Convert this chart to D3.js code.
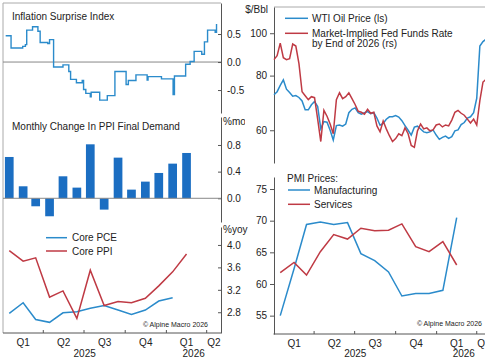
<!DOCTYPE html>
<html>
<head>
<meta charset="utf-8">
<script src="https://cdn.jsdelivr.net/npm/d3@7"></script>
<style>
body { margin: 0; background: #fff; }
text { font-family: "Liberation Sans", Arial, sans-serif; fill: #222; }
</style>
</head>
<body>
<script>
// Inflation surprise index (step series, value changes)
var surpriseDates = ["2025-01-07","2025-01-19","2025-02-14","2025-02-20","2025-02-23","2025-03-08","2025-03-20","2025-03-25","2025-04-11","2025-04-15","2025-04-24","2025-05-15","2025-05-28","2025-06-01","2025-06-14","2025-06-27","2025-06-30","2025-07-05","2025-07-15","2025-07-17","2025-08-05","2025-08-22","2025-09-08","2025-10-03","2025-10-08","2025-10-25","2025-11-19","2025-11-21","2025-12-21","2026-01-16","2026-01-19","2026-02-13","2026-02-23","2026-03-04","2026-03-21","2026-03-27","2026-04-03","2026-04-20","2026-04-23"];
var surpriseValues = [0.47,0.25,0.28,0.31,0.57,0.63,0.55,0.35,0.33,0.40,-0.09,-0.05,-0.17,-0.31,-0.37,-0.33,-0.49,-0.56,-0.62,-0.54,-0.68,-0.60,-0.17,-0.40,-0.33,-0.23,-0.32,-0.26,-0.30,-0.58,-0.25,-0.04,0.01,0.19,0.14,0.36,0.57,0.53,0.68];

// Monthly PPI final demand, % m/m (Jan 2025 - Feb 2026)
var ppiMoM = [0.62,0.18,-0.12,-0.27,0.33,0.16,0.81,-0.17,0.61,0.13,0.25,0.38,0.52,0.68];

// Core inflation, % y/y
var corePCE = [2.78,2.97,2.67,2.62,2.79,2.81,2.87,2.92,2.84,2.76,2.84,3.00,3.06];
var corePPI = [3.90,3.71,3.77,3.07,3.18,2.69,3.55,2.92,2.99,2.97,3.05,3.27,3.52,3.84];

// Weekly WTI oil price ($/bbl) and market-implied fed funds rate by end of 2026 (%)
var oilWTI = [72.3,73.5,76.0,78.2,74.5,73.2,71.8,72.0,71.3,70.0,66.8,66.8,68.6,69.8,68.0,60.5,62.8,62.6,60.0,57.0,61.5,61.7,61.3,62.0,65.8,67.0,67.5,65.8,65.3,65.8,66.2,65.5,65.8,64.0,61.6,62.2,63.6,64.4,64.4,64.8,64.3,63.1,61.5,60.0,58.5,61.0,61.3,60.4,59.5,59.2,59.5,60.1,58.5,57.2,57.8,58.2,57.5,58.0,59.8,60.1,61.8,62.5,64.0,64.4,65.8,71.0,93.5,95.7,97.0];
var fedFunds2026 = [3.66,3.70,3.83,3.68,3.66,3.67,3.82,3.80,3.62,3.33,3.29,3.25,3.28,3.27,3.05,2.82,3.14,3.08,3.00,2.90,3.25,3.32,3.26,3.28,3.32,3.26,3.20,3.13,3.12,3.10,3.15,3.11,3.12,2.98,2.92,3.03,2.95,2.88,2.82,2.85,2.90,2.88,2.96,2.90,2.78,2.76,2.93,3.00,2.95,2.96,2.93,2.94,2.99,3.00,2.97,2.99,2.98,3.04,3.12,3.14,3.11,3.09,3.05,3.01,3.05,2.99,3.24,3.43,3.46];

// PMI prices indexes (Jan 2025 - Feb 2026)
var pmiManufacturing = [55.0,62.4,69.4,69.8,69.4,69.7,64.8,63.7,61.9,58.1,58.5,58.5,59.0,70.5];
var pmiServices = [61.8,63.4,61.4,65.1,67.8,67.1,68.8,68.4,68.5,69.5,65.9,65.1,66.7,63.0];

var ticks1 = [-0.5, 0, 0.5];
var ticks2 = [0, 0.4, 0.8];
var ticks3 = [2.8, 3.2, 3.6, 4.0];
var ticksOil = [60, 80, 100];
var ticksPmi = [55, 60, 65, 70, 75];

var blue = "#2b8bcb", red = "#bf3a44", barBlue = "#1b6ec2";
var frameGrey = "#aaa", axisGrey = "#555";

var parse = d3.timeParse("%Y-%m-%d");
var monthDate = function(i) { return new Date(2025, i, 15); };
var weekDate = function(i) { return d3.timeDay.offset(new Date(2025, 0, 1), 7 * i); };

var xStart = new Date(2025, 0, 1), xEnd = new Date(2026, 4, 3);

var svg = d3.select("body").append("svg")
    .attr("width", 485)
    .attr("height", 360)
    .style("font-size", "10px");

svg.append("rect").attr("width", 485).attr("height", 360).attr("fill", "#fff");

//The left column is cut off at x = 245 in the source layout.
svg.append("clipPath").attr("id", "leftCol")
    .append("rect").attr("x", 0).attr("y", 0).attr("width", 245).attr("height", 360);

//Left column x scale
var xL = d3.scaleTime().domain([xStart, xEnd]).range([3, 221]);
//Right column x scale
var xR = d3.scaleTime().domain([xStart, xEnd]).range([274, 491]);

function fmt1(d) { return d.toFixed(1); }

//Draw a right side axis with ticks pointing into the plot.
function rightAxis(y, ticks, format) {
    var g = svg.append("g").attr("transform", "translate(221,0)")
        .call(d3.axisRight(y).tickValues(ticks).tickFormat(format)
            .tickSizeInner(-3).tickSizeOuter(0).tickPadding(6));
    g.select(".domain").attr("stroke", axisGrey);
    g.selectAll(".tick line").attr("stroke", axisGrey);
    g.selectAll("text").attr("font-size", 10).attr("fill", "#222")
        .attr("font-family", "Liberation Sans, Arial, sans-serif");
}

function leftAxis(y, ticks, format) {
    var g = svg.append("g").attr("transform", "translate(274,0)")
        .call(d3.axisLeft(y).tickValues(ticks).tickFormat(format)
            .tickSizeInner(4).tickSizeOuter(0).tickPadding(3));
    g.select(".domain").attr("stroke", axisGrey);
    g.selectAll(".tick line").attr("stroke", axisGrey);
    g.selectAll("text").attr("font-size", 10).attr("fill", "#222")
        .attr("font-family", "Liberation Sans, Arial, sans-serif");
}

//Quarter and year labels along a date axis.
function dateAxis(x, yLine, x0, x1, qY, yearY) {
    svg.append("line").attr("x1", x0).attr("x2", x1).attr("y1", yLine).attr("y2", yLine)
        .attr("stroke", axisGrey);
    var quarters = d3.timeMonth.every(3).range(xStart, xEnd);
    quarters.forEach(function(q, i) {
        var qEnd = d3.min([d3.timeMonth.offset(q, 3), xEnd]);
        if (i > 0) {
            svg.append("line").attr("x1", x(q)).attr("x2", x(q))
                .attr("y1", yLine).attr("y2", yLine - 3).attr("stroke", axisGrey);
        }
        svg.append("text").attr("x", x(new Date((+q + +qEnd) / 2))).attr("y", qY)
            .attr("text-anchor", "middle").text("Q" + (q.getMonth() / 3 + 1));
    });
    [2025, 2026].forEach(function(yr) {
        var a = new Date(yr, 0, 1), b = d3.min([new Date(yr + 1, 0, 1), xEnd]);
        svg.append("text").attr("x", x(new Date((+a + +b) / 2))).attr("y", yearY)
            .attr("text-anchor", "middle").text(yr);
    });
}

//Left frame line for the left column.
svg.append("line").attr("x1", 3).attr("x2", 3).attr("y1", 3).attr("y2", 333).attr("stroke", frameGrey);
svg.append("line").attr("x1", 3).attr("x2", 221).attr("y1", 3).attr("y2", 3).attr("stroke", frameGrey);

// ---------- Panel 1: Inflation Surprise Index ----------
var y1 = d3.scaleLinear().domain([-0.91, 1.054]).range([113, 3]);
svg.append("line").attr("x1", 3).attr("x2", 221).attr("y1", y1(0)).attr("y2", y1(0)).attr("stroke", "#888");
rightAxis(y1, ticks1, fmt1);
var surprise = surpriseDates.map(function(d, i) { return { date: parse(d), value: surpriseValues[i] }; });
svg.append("path").datum(surprise)
    .attr("fill", "none").attr("stroke", blue).attr("stroke-width", 1.4)
    .attr("d", d3.line().curve(d3.curveStepAfter)
        .x(function(d) { return xL(d.date); })
        .y(function(d) { return y1(d.value); }));
svg.append("text").attr("x", 12).attr("y", 19.5).text("Inflation Surprise Index");

// ---------- Panel 2: Monthly change in PPI ----------
var y2 = d3.scaleLinear().domain([-0.356, 1.22]).range([222, 117]);
rightAxis(y2, ticks2, fmt1);
var barWidth = 8.7;
svg.selectAll("rect.ppi").data(ppiMoM).enter().append("rect")
    .attr("class", "ppi")
    .attr("x", function(d, i) { return xL(monthDate(i)) - barWidth / 2; })
    .attr("y", function(d) { return y2(Math.max(d, 0)); })
    .attr("width", barWidth)
    .attr("height", function(d) { return Math.abs(y2(d) - y2(0)); })
    .attr("fill", barBlue);
svg.append("line").attr("x1", 3).attr("x2", 221).attr("y1", y2(0)).attr("y2", y2(0)).attr("stroke", "#888");
svg.append("text").attr("x", 12).attr("y", 130).text("Monthly Change In PPI Final Demand");
svg.append("text").attr("x", 223).attr("y", 125).attr("clip-path", "url(#leftCol)").text("%mom");

// ---------- Panel 3: Core PCE and Core PPI ----------
var y3 = d3.scaleLinear().domain([2.43, 4.32]).range([333, 227]);
rightAxis(y3, ticks3, fmt1);
var monthLine = function(x, y) {
    return d3.line().x(function(d, i) { return x(monthDate(i)); }).y(function(d) { return y(d); });
};
svg.append("path").datum(corePCE).attr("fill", "none").attr("stroke", blue).attr("stroke-width", 1.5)
    .attr("d", monthLine(xL, y3));
svg.append("path").datum(corePPI).attr("fill", "none").attr("stroke", red).attr("stroke-width", 1.5)
    .attr("d", monthLine(xL, y3));
svg.append("text").attr("x", 223).attr("y", 233).text("%yoy");
[["Core PCE", blue, 237.7], ["Core PPI", red, 251]].forEach(function(l) {
    svg.append("line").attr("x1", 46).attr("x2", 67).attr("y1", l[2]).attr("y2", l[2])
        .attr("stroke", l[1]).attr("stroke-width", 1.5);
    svg.append("text").attr("x", 72).attr("y", l[2] + 3.5).text(l[0]);
});
svg.append("text").attr("x", 208).attr("y", 326.5).attr("text-anchor", "end")
    .style("font-size", "7px").text("\u00A9 Alpine Macro 2026");
dateAxis(xL, 333, 3, 221, 346, 356.5);

// ---------- Panel 4: WTI oil and implied fed funds ----------
var yOil = d3.scaleLog().domain([50.5, 114.8]).range([163, 7]);
var yFed = d3.scaleLinear().domain([2.6, 4.2]).range([163, 7]);
svg.append("line").attr("x1", 274).attr("x2", 485).attr("y1", 7).attr("y2", 7).attr("stroke", frameGrey);
leftAxis(yOil, ticksOil, d3.format("d"));
svg.append("text").attr("x", 268).attr("y", 12.5).attr("text-anchor", "end").text("$/Bbl");
var weekLine = function(y) {
    return d3.line().x(function(d, i) { return xR(weekDate(i)); }).y(function(d) { return y(d); });
};
svg.append("path").datum(oilWTI).attr("fill", "none").attr("stroke", blue).attr("stroke-width", 1.5)
    .attr("d", weekLine(yOil));
svg.append("path").datum(fedFunds2026).attr("fill", "none").attr("stroke", red).attr("stroke-width", 1.5)
    .attr("d", weekLine(yFed));
svg.append("line").attr("x1", 285).attr("x2", 308).attr("y1", 18.3).attr("y2", 18.3).attr("stroke", blue).attr("stroke-width", 1.5);
svg.append("text").attr("x", 312).attr("y", 21.8).text("WTI Oil Price (ls)");
svg.append("line").attr("x1", 285).attr("x2", 308).attr("y1", 33.3).attr("y2", 33.3).attr("stroke", red).attr("stroke-width", 1.5);
svg.append("text").attr("x", 312).attr("y", 36.8).text("Market-Implied Fed Funds Rate");
svg.append("text").attr("x", 312).attr("y", 46.8).text("by End of 2026 (rs)");

// ---------- Panel 5: PMI prices ----------
var yPmi = d3.scaleLinear().domain([52.1, 76.9]).range([334, 177]);
leftAxis(yPmi, ticksPmi, d3.format("d"));
var pmiLine = d3.line().x(function(d, i) { return xR(monthDate(i)); }).y(function(d) { return yPmi(d); });
svg.append("path").datum(pmiManufacturing).attr("fill", "none").attr("stroke", blue).attr("stroke-width", 1.5).attr("d", pmiLine);
svg.append("path").datum(pmiServices).attr("fill", "none").attr("stroke", red).attr("stroke-width", 1.5).attr("d", pmiLine);
svg.append("text").attr("x", 287).attr("y", 181.5).text("PMI Prices:");
[["Manufacturing", blue, 190], ["Services", red, 204.3]].forEach(function(l) {
    svg.append("line").attr("x1", 288).attr("x2", 310).attr("y1", l[2]).attr("y2", l[2])
        .attr("stroke", l[1]).attr("stroke-width", 1.5);
    svg.append("text").attr("x", 314).attr("y", l[2] + 3.5).text(l[0]);
});
svg.append("text").attr("x", 482).attr("y", 326).attr("text-anchor", "end")
    .style("font-size", "7px").text("\u00A9 Alpine Macro 2026");
dateAxis(xR, 334, 273.5, 485, 347, 357);
</script>
</body>
</html>
